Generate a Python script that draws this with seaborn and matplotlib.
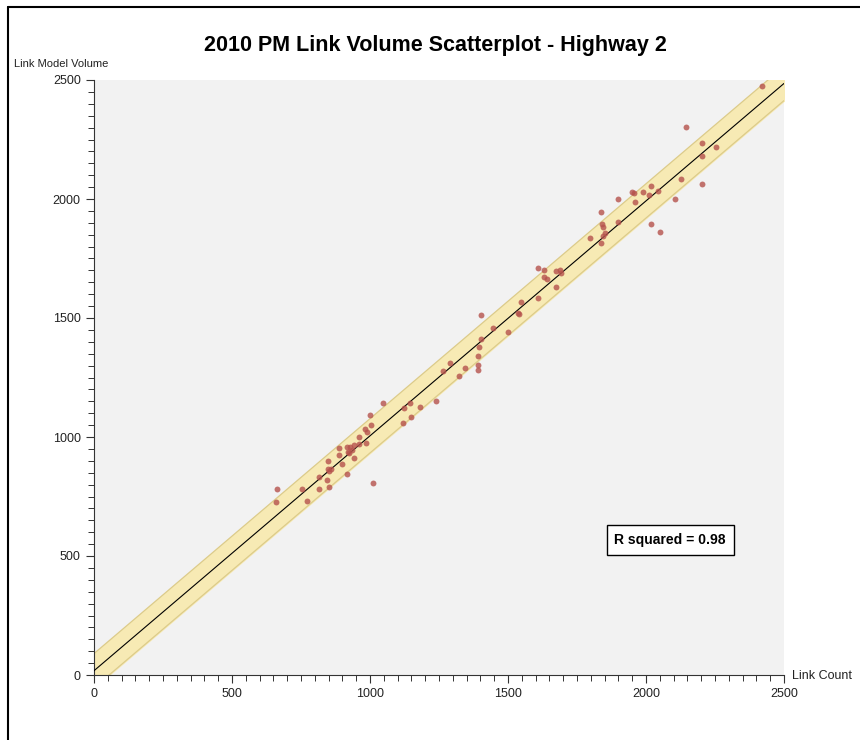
import numpy as np
import pandas as pd
import matplotlib.pyplot as plt
import seaborn as sns
from matplotlib.lines import Line2D
from matplotlib.ticker import MultipleLocator

sns.set_style("white")
plt.rcParams["font.family"] = ["Liberation Sans", "DejaVu Sans"]
plt.rcParams["text.color"] = "black"

# link counts (x) and model volumes (y)
link_count = [2421, 2145, 2204, 2254, 2204, 2204, 2127, 2106, 2043, 2018,
              2010, 1989, 1958, 1948, 1960, 1897, 2018, 2052, 1837, 1839,
              1845, 1851, 1845, 1897, 1797, 1837,
              1610, 1632, 1632, 1640, 1673, 1688, 1692, 1674, 1610, 1548,
              1537, 1541, 1403, 1447, 1501, 1403, 1395, 1391, 1390, 1390,
              1345, 1324, 1290, 1266, 1240, 1181, 1145, 1123, 1149, 1118,
              1046,
              1000, 1004, 983, 990, 961, 986, 961, 942, 918, 928, 934, 921,
              925, 888, 888, 897, 942, 849, 858, 853, 849, 816, 843, 916,
              1012, 752, 816, 853, 771, 664, 659]
model_volume = [2475, 2304, 2237, 2220, 2182, 2064, 2084, 2001, 2035, 2055,
                2015, 2031, 2024, 2029, 1986, 2001, 1895, 1863, 1947, 1895,
                1884, 1856, 1846, 1902, 1835, 1814,
                1709, 1702, 1674, 1664, 1697, 1702, 1690, 1629, 1585, 1566,
                1523, 1516, 1513, 1457, 1440, 1411, 1380, 1340, 1303, 1282,
                1289, 1258, 1310, 1277, 1151, 1127, 1141, 1120, 1082, 1058,
                1141,
                1092, 1050, 1034, 1022, 998, 976, 971, 966, 957, 957, 945, 938,
                931, 955, 926, 888, 910, 899, 864, 857, 864, 833, 819, 845,
                808, 782, 782, 789, 731, 780, 728]

fit_slope = 0.987
fit_intercept = 18
band_half_width = 72
r_squared = 0.98

df = pd.DataFrame({"Link Count": link_count, "Link Model Volume": model_volume})

fig = plt.figure(figsize=(8.6, 7.4), dpi=100)
ax = fig.add_axes([94 / 860, 1 - 675 / 740, 690 / 860, 595 / 740])
ax.set_facecolor("#f2f2f2")

xs = np.array([0, 2500])
ys = fit_slope * xs + fit_intercept
ax.fill_between(xs, ys - band_half_width, ys + band_half_width,
                color="#f7eab4", zorder=1)
ax.plot(xs, ys - band_half_width, color="#dccb8a", lw=0.9, zorder=2)
ax.plot(xs, ys + band_half_width, color="#dccb8a", lw=0.9, zorder=2)
ax.plot(xs, ys, color="black", lw=0.8, zorder=3)

sns.scatterplot(df, x="Link Count", y="Link Model Volume", ax=ax,
                color="#b5524c", alpha=0.8, s=18, linewidth=0, zorder=4)

ax.set_xlim(0, 2500)
ax.set_ylim(0, 2500)
ax.xaxis.set_major_locator(MultipleLocator(500))
ax.yaxis.set_major_locator(MultipleLocator(500))
ax.xaxis.set_minor_locator(MultipleLocator(50))
ax.yaxis.set_minor_locator(MultipleLocator(50))
ax.tick_params(which="major", direction="out", length=6, width=0.8,
               color="#333333", labelsize=9, labelcolor="#222222",
               bottom=True, left=True)
ax.tick_params(which="minor", direction="out", length=4, width=0.7,
               color="#333333", bottom=True, left=True)
for side in ["top", "right"]:
    ax.spines[side].set_visible(False)
for side in ["left", "bottom"]:
    ax.spines[side].set_color("#333333")
    ax.spines[side].set_linewidth(0.8)
ax.set_xlabel("")
ax.set_ylabel("")

fig.text(14 / 860, 1 - 64 / 740, "Link Model Volume", fontsize=8,
         va="center", ha="left", color="#222222")
fig.text(792 / 860, 1 - 676 / 740, "Link Count", fontsize=9,
         va="center", ha="left", color="#222222")
fig.text(435 / 860, 1 - 45 / 740, "2010 PM Link Volume Scatterplot - Highway 2",
         fontsize=15.5, fontweight="bold", ha="center", va="center",
         color="black")

ax.text(0.835, 0.227, f"R squared = {r_squared:.2f}", transform=ax.transAxes,
        ha="center", va="center", fontsize=10, fontweight="bold", color="black",
        bbox=dict(boxstyle="square,pad=0.55", facecolor="white",
                  edgecolor="black", linewidth=1))

# outer frame (left and top edges)
fig.add_artist(Line2D([8 / 860, 8 / 860], [0, 1 - 7 / 740],
                      transform=fig.transFigure, color="black", lw=1.5))
fig.add_artist(Line2D([8 / 860, 1], [1 - 7 / 740, 1 - 7 / 740],
                      transform=fig.transFigure, color="black", lw=1.5))

fig.savefig("out.png", dpi=100)
